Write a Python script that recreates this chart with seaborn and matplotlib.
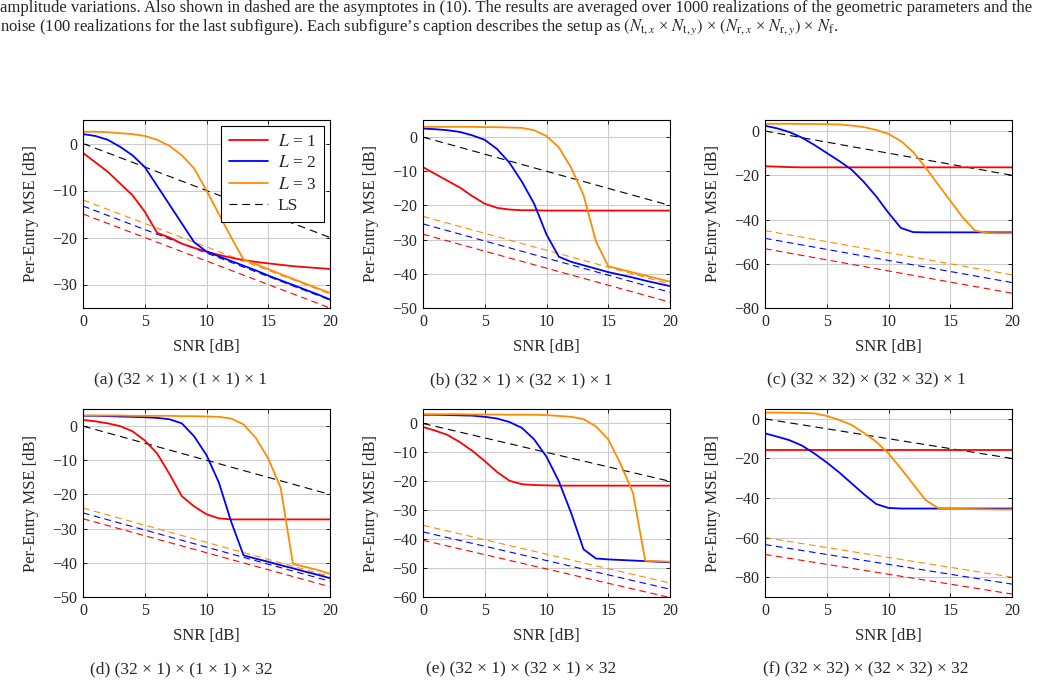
import numpy as np
import pandas as pd
import matplotlib
matplotlib.use("Agg")
import matplotlib.pyplot as plt
from matplotlib.lines import Line2D
import seaborn as sns

# ---------------- data ----------------
snr = list(range(21))
snr_ends = [0, 20]

# (a)
a_L1 = [-2, -4, -6, -8.5, -11, -14.5, -19, -20, -21.3, -22.2, -23, -23.7, -24.3, -24.8, -25.2, -25.5, -25.8, -26.1, -26.3, -26.5, -26.7]
a_L2 = [2, 1.6, 0.8, -0.7, -2.5, -5, -9, -13, -17, -21, -23, -24, -25, -26, -27, -28.1, -29.1, -30.1, -31.1, -32.1, -33.2]
a_L3 = [2.5, 2.5, 2.4, 2.2, 2.0, 1.6, 0.8, -0.5, -2.5, -5.3, -10, -15, -20, -24.7, -25.7, -26.7, -27.8, -28.8, -29.8, -30.8, -31.8]
a_asym = {"L1": [-15, -35], "L2": [-13.3, -33.3], "L3": [-12, -32]}

# (b)
b_L1 = [-8.8, -10.8, -12.8, -14.8, -17.3, -19.5, -20.7, -21.2, -21.4, -21.4, -21.5, -21.5, -21.5, -21.5, -21.5, -21.5, -21.5, -21.5, -21.5, -21.5, -21.5]
b_L2 = [2.5, 2.3, 2.0, 1.5, 0.5, -0.8, -3.5, -7.5, -13, -19.5, -28.5, -35, -36.5, -37.5, -38.5, -39.5, -40.3, -41.1, -42, -42.8, -43.6]
b_L3 = [3, 3, 3, 3, 3, 2.9, 2.9, 2.8, 2.7, 2, 0.3, -3, -9, -17, -30.5, -37.8, -38.7, -39.6, -40.5, -41.4, -42.3]
b_asym = {"L1": [-28.4, -48.3], "L2": [-25.4, -45.4], "L3": [-23.2, -43]}

# (c)
c_L1 = [-15.9, -16.1, -16.3, -16.4, -16.4, -16.4, -16.4, -16.4, -16.4, -16.4, -16.4, -16.4, -16.4, -16.4, -16.4, -16.4, -16.4, -16.4, -16.4, -16.4, -16.4]
c_L2 = [2.4, 1.2, -0.5, -3, -6.3, -9.9, -13.5, -17.4, -23, -29.5, -37, -43.8, -45.7, -45.8, -45.8, -45.8, -45.8, -45.8, -45.8, -45.8, -45.8]
c_L3 = [3.3, 3.3, 3.3, 3.2, 3.2, 3.1, 3.0, 2.5, 1.8, 0.5, -1.3, -4.5, -9.5, -16.5, -24, -31.5, -39, -45, -46.1, -46.2, -46.2]
c_asym = {"L1": [-53.2, -73.3], "L2": [-48.5, -68.5], "L3": [-45, -65]}

# (d)
d_L1 = [1.8, 1.4, 0.8, 0, -1.5, -4.2, -8, -14, -20.5, -23.5, -25.8, -27, -27.3, -27.3, -27.3, -27.3, -27.3, -27.3, -27.3, -27.3, -27.3]
d_L2 = [3, 3, 2.9, 2.8, 2.7, 2.6, 2.4, 2, 0.8, -3, -8.5, -16.5, -28, -37.8, -38.8, -39.7, -40.7, -41.6, -42.6, -43.5, -44.5]
d_L3 = [3.1, 3.1, 3.1, 3.1, 3.0, 3.0, 3.0, 3.0, 2.9, 2.9, 2.8, 2.7, 2.2, 0.5, -3.5, -9.5, -18, -40.3, -41.2, -42.1, -43.2]
d_asym = {"L1": [-27.1, -47], "L2": [-25.4, -45.4], "L3": [-24, -44]}

# (e)
e_L1 = [-1.2, -2.5, -4, -6.5, -9.5, -13, -16.8, -19.8, -21, -21.3, -21.4, -21.5, -21.5, -21.5, -21.5, -21.5, -21.5, -21.5, -21.5, -21.5, -21.5]
e_L2 = [3, 3, 2.9, 2.8, 2.7, 2.3, 1.7, 0.5, -1.5, -5.5, -11.5, -20, -31, -43.5, -46.7, -47, -47.2, -47.4, -47.6, -47.8, -48]
e_L3 = [3.2, 3.2, 3.2, 3.2, 3.1, 3.1, 3.1, 3.0, 3.0, 3.0, 2.9, 2.6, 2.3, 1.5, -1, -5.5, -14, -24, -47.5, -47.6, -47.8]
e_asym = {"L1": [-40.4, -60.2], "L2": [-37.5, -57.3], "L3": [-35.2, -55.2]}

# (f)
f_L1 = [-15.8] * 21
f_L2 = [-7.3, -9, -10.8, -13.5, -17.5, -22, -27, -32.5, -38, -43, -45, -45.3, -45.3, -45.3, -45.3, -45.3, -45.3, -45.3, -45.3, -45.3, -45.3]
f_L3 = [3.2, 3.2, 3.1, 3.0, 2.8, 1.5, -0.5, -3, -7, -11.5, -17.5, -25, -33, -41, -45, -45.4, -45.5, -45.6, -45.7, -45.8, -45.8]
f_asym = {"L1": [-68.5, -88.5], "L2": [-63.5, -83.5], "L3": [-60, -80]}

ls_ref = [0, -20]

captions = [
    "(a) (32 \u00d7 1) \u00d7 (1 \u00d7 1) \u00d7 1",
    "(b) (32 \u00d7 1) \u00d7 (32 \u00d7 1) \u00d7 1",
    "(c) (32 \u00d7 32) \u00d7 (32 \u00d7 32) \u00d7 1",
    "(d) (32 \u00d7 1) \u00d7 (1 \u00d7 1) \u00d7 32",
    "(e) (32 \u00d7 1) \u00d7 (32 \u00d7 1) \u00d7 32",
    "(f) (32 \u00d7 32) \u00d7 (32 \u00d7 32) \u00d7 32",
]

panels = [
    (a_L1, a_L2, a_L3, a_asym, (-35, 5), [-30, -20, -10, 0]),
    (b_L1, b_L2, b_L3, b_asym, (-50, 5), [-50, -40, -30, -20, -10, 0]),
    (c_L1, c_L2, c_L3, c_asym, (-80, 5), [-80, -60, -40, -20, 0]),
    (d_L1, d_L2, d_L3, d_asym, (-50, 5), [-50, -40, -30, -20, -10, 0]),
    (e_L1, e_L2, e_L3, e_asym, (-60, 5), [-60, -50, -40, -30, -20, -10, 0]),
    (f_L1, f_L2, f_L3, f_asym, (-90, 5), [-80, -60, -40, -20, 0]),
]

legend_labels = ["$L$ = 1", "$L$ = 2", "$L$ = 3", "LS"]
colors = {"L1": "#ff0000", "L2": "#0000ff", "L3": "#ff8c00"}

# ---------------- style ----------------
sns.set_theme(style="ticks")
plt.rcParams["font.family"] = ["Liberation Serif", "DejaVu Serif"]
plt.rcParams["mathtext.fontset"] = "stix"
plt.rcParams["axes.unicode_minus"] = True

W, H = 1041, 681
fig = plt.figure(figsize=(W / 100, H / 100), dpi=100)

col_x = [83, 423, 765]
row_y = [120, 409]
ax_w, ax_h = 247, 188
cap_cx = [181, 521, 866]

fs_tick = 11.5
fs_lab = 12
fs_cap = 12.5

for i, (L1, L2, L3, asym, ylim, yticks) in enumerate(panels):
    r, c = divmod(i, 3)
    left = col_x[c] / W
    bottom = 1 - (row_y[r] + ax_h) / H
    ax = fig.add_axes([left, bottom, ax_w / W, ax_h / H])

    # asymptotes (dashed)
    for key in ["L1", "L2", "L3"]:
        sns.lineplot(x=snr_ends, y=asym[key], ax=ax, color=colors[key], lw=0.8,
                     linestyle=(0, (6, 4)), zorder=2)
    # LS
    sns.lineplot(x=snr_ends, y=ls_ref, ax=ax, color="black", lw=0.8,
                 linestyle=(0, (7, 4.5)), zorder=3)
    # curves
    sns.lineplot(x=snr, y=L1, ax=ax, color=colors["L1"], lw=1.3, zorder=4)
    sns.lineplot(x=snr, y=L2, ax=ax, color=colors["L2"], lw=1.3, zorder=4)
    sns.lineplot(x=snr, y=L3, ax=ax, color=colors["L3"], lw=1.3, zorder=4)

    ax.set_xlim(0, 20)
    ax.set_ylim(*ylim)
    ax.set_xticks([0, 5, 10, 15, 20])
    ax.set_yticks(yticks)
    ax.grid(True, color="#cccccc", lw=0.8)
    ax.set_axisbelow(True)
    ax.tick_params(direction="in", length=3, width=0.6, top=True, right=True,
                   labelsize=fs_tick, pad=4, color="black")
    for sp in ax.spines.values():
        sp.set_color("black")
        sp.set_linewidth(0.8)
        sp.set_zorder(10)
    ax.set_xlabel("SNR [dB]", fontsize=fs_lab, labelpad=7)
    ax.set_ylabel("Per-Entry MSE [dB]", fontsize=fs_lab)
    ax.yaxis.set_label_coords(-0.18, 0.5)

    cy = 1 - (row_y[r] + ax_h + 72) / H
    fig.text(cap_cx[c] / W, cy, captions[i], ha="center", va="center", fontsize=fs_cap)

    if i == 0:
        handles = [Line2D([], [], color=colors["L1"], lw=1.3),
                   Line2D([], [], color=colors["L2"], lw=1.3),
                   Line2D([], [], color=colors["L3"], lw=1.3),
                   Line2D([], [], color="black", lw=0.8, linestyle=(0, (7, 4.5)))]
        leg = ax.legend(handles, legend_labels, loc="upper right", fontsize=12.5,
                        frameon=True, fancybox=False, edgecolor="black",
                        framealpha=1, borderaxespad=0.35, handlelength=2.2,
                        labelspacing=0.3, borderpad=0.45, handletextpad=0.6)
        leg.get_frame().set_linewidth(0.8)

line1 = ("amplitude variations. Also shown in dashed are the asymptotes in (10). The results are averaged over 1000 "
         "realizations of the geometric parameters and the")
line2 = ("noise (100 realizations for the last subfigure). Each subfigure\u2019s caption describes the setup as "
         r"$(N_{\mathrm{t},x}$ \u00d7 $N_{\mathrm{t},y})$ \u00d7 $(N_{\mathrm{r},x}$ \u00d7 $N_{\mathrm{r},y})$ \u00d7 $N_{\mathrm{f}}$.")
line2 = line2.replace("\\u00d7", "\u00d7")
fig.text(0 / W, 1 - 8 / H, line1, ha="left", va="center", fontsize=12)
fig.text(0 / W, 1 - 27 / H, line2, ha="left", va="center", fontsize=12)

fig.savefig("out.png", dpi=100)
